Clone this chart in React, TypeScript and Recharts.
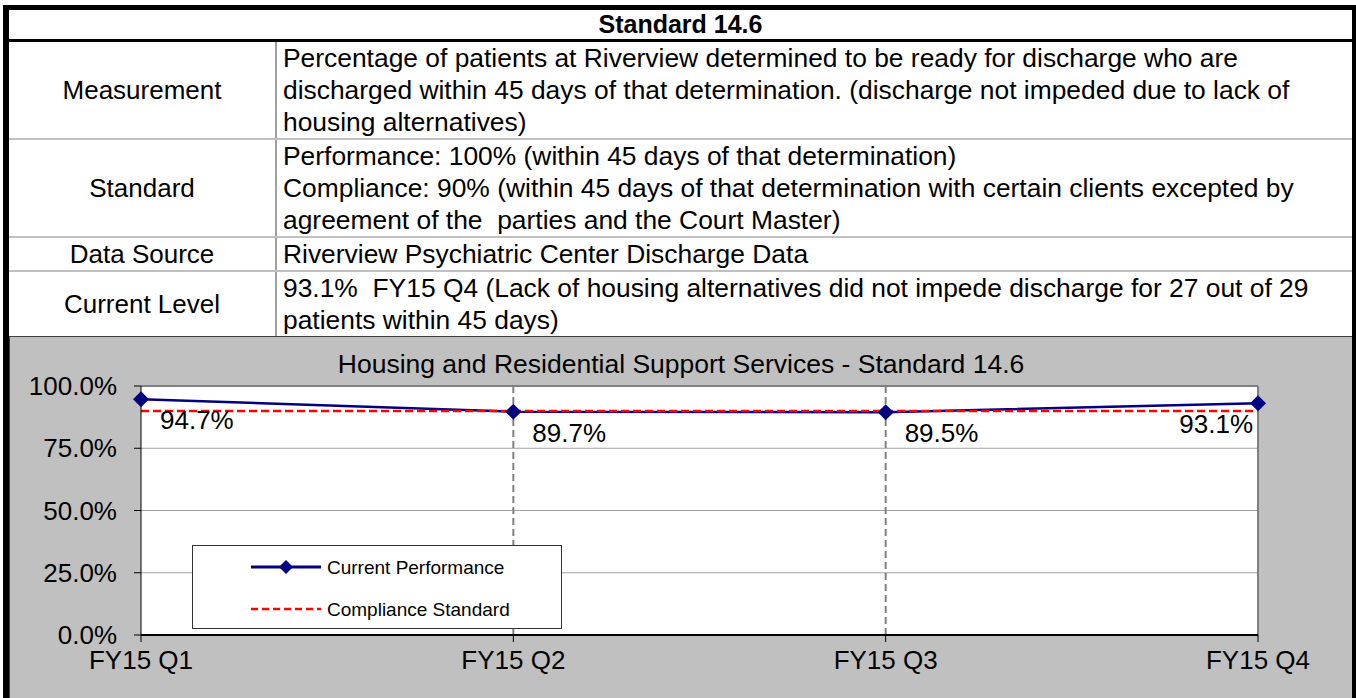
import React from 'react'
import { LineChart, Line, XAxis, YAxis, CartesianGrid, ReferenceLine, Legend, LabelList } from 'recharts'

const quarters = ['FY15 Q1', 'FY15 Q2', 'FY15 Q3', 'FY15 Q4']
const currentPerformance = [94.7, 89.7, 89.5, 93.1]
const complianceStandard = [90, 90, 90, 90]
const yTicks = [0, 25, 50, 75, 100]

const tableRows = [
    {
        label: 'Measurement',
        lines: [
            'Percentage of patients at Riverview determined to be ready for discharge who are',
            'discharged within 45 days of that determination. (discharge not impeded due to lack of',
            'housing alternatives)',
        ],
    },
    {
        label: 'Standard',
        lines: [
            'Performance: 100% (within 45 days of that determination)',
            'Compliance: 90% (within 45 days of that determination with certain clients excepted by',
            'agreement of the  parties and the Court Master)',
        ],
    },
    {
        label: 'Data Source',
        lines: ['Riverview Psychiatric Center Discharge Data'],
    },
    {
        label: 'Current Level',
        lines: [
            '93.1%  FY15 Q4 (Lack of housing alternatives did not impede discharge for 27 out of 29',
            'patients within 45 days)',
        ],
    },
]

const FONT = '"Liberation Sans", Arial, sans-serif'
const LINE_H = 32
const NAVY = '#000080'

const data = quarters.map((q, i) => ({
    quarter: q,
    current: currentPerformance[i],
    standard: complianceStandard[i],
}))

const Diamond = (props: any) => {
    const { cx, cy } = props
    if (cx == null || cy == null) return null
    const r = 8
    return <path d={`M${cx},${cy - r}L${cx + r},${cy}L${cx},${cy + r}L${cx - r},${cy}Z`} fill={NAVY} />
}

// labels sit to the lower right of each point, last one pulled inside the plot
const PointLabel = (props: any) => {
    const { x, y, value, index } = props
    const last = index === quarters.length - 1
    return (
        <text
            x={last ? x - 5 : x + 19}
            y={y + 21}
            textAnchor={last ? 'end' : 'start'}
            dominantBaseline="central"
            fontSize={26}
            fontFamily={FONT}
            fill="#000"
        >
            {Number(value).toFixed(1)}%
        </text>
    )
}

const LegendBox = () => (
    <div style={{ width: 370, height: 84, background: '#fff', border: '1px solid #333', boxSizing: 'border-box', position: 'relative', fontFamily: FONT, fontSize: 19 }}>
        <svg width={370} height={84} style={{ position: 'absolute', left: 0, top: 0 }}>
            <line x1={58} x2={128} y1={21} y2={21} stroke={NAVY} strokeWidth={3} />
            <path d="M93,14L100,21L93,28L86,21Z" fill={NAVY} />
            <line x1={58} x2={128} y1={63} y2={63} stroke="#ff0000" strokeWidth={2.5} strokeDasharray="7 4" />
            <text x={134} y={21} dominantBaseline="central" fontSize={19} fontFamily={FONT}>Current Performance</text>
            <text x={134} y={63} dominantBaseline="central" fontSize={19} fontFamily={FONT}>Compliance Standard</text>
        </svg>
    </div>
)

export default function App() {
    let top = 42
    const rows = tableRows.map((row, i) => {
        const h = row.lines.length * LINE_H
        const y = top
        top += h + 2
        return (
            <React.Fragment key={row.label}>
                <div style={{ position: 'absolute', left: 9, top: y, width: 266, height: h, display: 'flex', alignItems: 'center', justifyContent: 'center' }}>
                    {row.label}
                </div>
                <div style={{ position: 'absolute', left: 283, top: y, height: h, fontSize: 26.4 }}>
                    {row.lines.map((ln, j) => (
                        <div key={j} style={{ height: LINE_H, lineHeight: `${LINE_H}px`, whiteSpace: 'pre' }}>{ln}</div>
                    ))}
                </div>
                {i < tableRows.length - 1 && (
                    <div style={{ position: 'absolute', left: 9, top: y + h, width: 1343, height: 2, background: '#c0c0c0' }} />
                )}
            </React.Fragment>
        )
    })
    const tableBottom = top - 2

    return (
        <div style={{ position: 'absolute', left: 0, top: 0, width: 1356, height: 698, background: '#fff', overflow: 'hidden', fontFamily: FONT, fontSize: 26, color: '#000' }}>
            {/* table frame */}
            <div style={{ position: 'absolute', left: 3, top: 5, width: 1343, height: 700, borderLeft: '6px solid #000', borderTop: '5px solid #000', borderRight: '4px solid #000' }} />
            <div style={{ position: 'absolute', left: 9, top: 10, width: 1343, height: 29, display: 'flex', alignItems: 'center', justifyContent: 'center', fontWeight: 'bold', fontSize: 25 }}>
                Standard 14.6
            </div>
            <div style={{ position: 'absolute', left: 9, top: 39, width: 1343, height: 3, background: '#000' }} />
            <div style={{ position: 'absolute', left: 275, top: 42, width: 2, height: tableBottom - 42, background: '#a0a0a0' }} />
            {rows}

            {/* chart panel */}
            <div style={{ position: 'absolute', left: 9, top: tableBottom, width: 1343, height: 698 - tableBottom, background: '#c0c0c0', borderTop: '1px solid #404040', borderLeft: '1px solid #404040', boxSizing: 'border-box' }}>
                <div style={{ position: 'absolute', left: 0, top: 13, width: '100%', textAlign: 'center', lineHeight: '28px', fontSize: 26.5 }}>
                    Housing and Residential Support Services - Standard 14.6
                </div>
                <div style={{ position: 'absolute', left: 0, top: 0 }}>
                    <LineChart width={1341} height={363} data={data} margin={{ top: 49, right: 93, bottom: 25, left: 0 }}>
                        <CartesianGrid vertical={false} stroke="#a0a0a0" fill="#fff" />
                        <ReferenceLine x="FY15 Q2" stroke="#808080" strokeWidth={2} strokeDasharray="7 4" />
                        <ReferenceLine x="FY15 Q3" stroke="#808080" strokeWidth={2} strokeDasharray="7 4" />
                        <ReferenceLine x="FY15 Q4" stroke="#808080" strokeWidth={2} />
                        <ReferenceLine y={100} stroke="#808080" strokeWidth={2} />
                        <XAxis
                            dataKey="quarter"
                            interval={0}
                            height={40}
                            tickSize={7}
                            tickMargin={9}
                            axisLine={{ stroke: '#000', strokeWidth: 2 }}
                            tickLine={{ stroke: '#000' }}
                            tick={{ fontSize: 26, fill: '#000', fontFamily: FONT }}
                        />
                        <YAxis
                            domain={[0, 100]}
                            ticks={yTicks}
                            width={131}
                            tickSize={7}
                            tickMargin={17}
                            axisLine={{ stroke: '#000' }}
                            tickLine={{ stroke: '#000' }}
                            tick={{ fontSize: 26, fill: '#000', fontFamily: FONT }}
                            tickFormatter={(v: number) => `${v.toFixed(1)}%`}
                        />
                        <Legend
                            layout="vertical"
                            align="center"
                            verticalAlign="middle"
                            content={() => <LegendBox />}
                            wrapperStyle={{ left: 182, top: 208, width: 370, height: 84 }}
                        />
                        <Line
                            dataKey="current"
                            name="Current Performance"
                            stroke={NAVY}
                            strokeWidth={2.5}
                            dot={<Diamond />}
                            activeDot={false}
                            isAnimationActive={false}
                        >
                            <LabelList dataKey="current" content={<PointLabel />} />
                        </Line>
                        <Line
                            dataKey="standard"
                            name="Compliance Standard"
                            stroke="#ff0000"
                            strokeWidth={2.5}
                            strokeDasharray="8 4"
                            dot={false}
                            activeDot={false}
                            isAnimationActive={false}
                        />
                    </LineChart>
                </div>
            </div>
        </div>
    )
}
